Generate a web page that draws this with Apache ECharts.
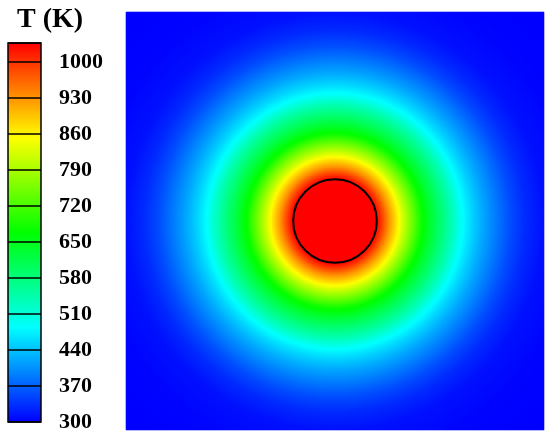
<!DOCTYPE html>
<html><head><meta charset="utf-8">
<script src="https://cdn.jsdelivr.net/npm/echarts@6/dist/echarts.min.js"></script>
<style>html,body{margin:0;padding:0;background:#fff}#c{width:550px;height:441px}</style>
</head><body><div id="c"></div>
<script>
// Radial temperature profile (r in disc radii, T in K)
const profileR = [0, 1.0, 1.08, 1.18, 1.3, 1.52, 1.66, 1.85, 2.07, 2.31, 2.55, 2.79, 3.03, 3.27, 3.56, 3.85, 4.21, 4.57, 5.0, 5.77, 7.1];
const profileT = [1037, 1037, 1010, 975, 930, 860, 810, 750, 680, 630, 585, 540, 490, 455, 420, 390, 355, 330, 312, 303, 300];
const domainMin = -5, domainMax = 5;
const cells = 209;
const disc = [[0, 0, 1]]; // centre x, centre y, radius
const colorbarTicks = [300, 370, 440, 510, 580, 650, 720, 790, 860, 930, 1000];
const colorbarMin = 300, colorbarMax = 1037;
const colorStops = ['#0000ff', '#00ffff', '#00ff00', '#ffff00', '#ff0000'];

function lookup(r) {
  if (r <= profileR[0]) return profileT[0];
  for (let k = 1; k < profileR.length; k++) {
    if (r <= profileR[k]) {
      const t = (r - profileR[k - 1]) / (profileR[k] - profileR[k - 1]);
      return profileT[k - 1] + t * (profileT[k] - profileT[k - 1]);
    }
  }
  return profileT[profileT.length - 1];
}
const cats = [];
for (let i = 0; i < cells; i++) cats.push(i);
const field = [];
const step = (domainMax - domainMin) / cells;
for (let i = 0; i < cells; i++) {
  const x = domainMin + (i + 0.5) * step;
  for (let j = 0; j < cells; j++) {
    const y = domainMin + (j + 0.5) * step;
    field.push([i, j, lookup(Math.hypot(x, y))]);
  }
}
const FONT = '"Liberation Serif", "Times New Roman", serif';
const chart = echarts.init(document.getElementById('c'), null, {renderer: 'canvas'});
chart.setOption({
  animation: false,
  backgroundColor: '#fff',
  title: {
    text: 'T (K)', left: 12, top: 1,
    textStyle: {fontFamily: FONT, fontWeight: 'bold', fontSize: 28, color: '#000'}
  },
  grid: [
    {left: 126, top: 12, width: 418, height: 418, show: false},
    {left: 8, top: 43, width: 33, height: 379, show: true, z: 10,
     backgroundColor: 'transparent', borderColor: '#000', borderWidth: 1.5}
  ],
  xAxis: [
    {type: 'category', data: cats, gridIndex: 0, show: false},
    {type: 'value', min: domainMin, max: domainMax, gridIndex: 0, show: false},
    {type: 'value', min: 0, max: 1, gridIndex: 1, show: false}
  ],
  yAxis: [
    {type: 'category', data: cats, gridIndex: 0, show: false},
    {type: 'value', min: domainMin, max: domainMax, gridIndex: 0, show: false},
    {type: 'value', min: colorbarMin, max: colorbarMax, interval: 70, gridIndex: 1,
     position: 'right', z: 10,
     axisLine: {show: false}, axisTick: {show: false},
     splitLine: {show: true, lineStyle: {color: '#000', width: 1.5}},
     axisLabel: {margin: 18, fontFamily: FONT, fontWeight: 'bold', fontSize: 22, color: '#000',
       formatter: v => colorbarTicks.includes(v) ? String(v) : ''}}
  ],
  visualMap: {
    type: 'continuous', min: colorbarMin, max: colorbarMax, seriesIndex: 0,
    calculable: false, realtime: false, hoverLink: false,
    left: 8, top: 43, padding: 0, itemWidth: 33, itemHeight: 379, z: 2,
    inRange: {color: colorStops}, text: null
  },
  series: [
    {type: 'heatmap', xAxisIndex: 0, yAxisIndex: 0, data: field,
     progressive: 0, itemStyle: {borderWidth: 0}, emphasis: {disabled: true}},
    {type: 'custom', xAxisIndex: 1, yAxisIndex: 1, data: disc, z: 5,
     renderItem: (params, api) => {
       const c = api.coord([api.value(0), api.value(1)]);
       const s = api.size([api.value(2), api.value(2)]);
       return {type: 'circle', shape: {cx: c[0], cy: c[1], r: s[0]},
               style: {fill: '#ff0000', stroke: '#000', lineWidth: 2}};
     }}
  ]
});
</script></body></html>
